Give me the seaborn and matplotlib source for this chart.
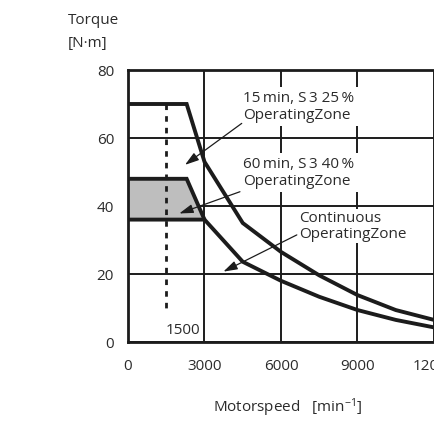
import matplotlib
matplotlib.use("Agg")
import numpy as np
import pandas as pd
import matplotlib.pyplot as plt
import seaborn as sns

# Axis ticks
speed_ticks = [0, 3000, 6000, 9000, 12000]
torque_ticks = [0, 20, 40, 60, 80]

# 15 min, S3 25 % operating limit
speed_s3_25 = [0, 2300, 3000, 4500, 6000, 7500, 9000, 10500, 12000]
torque_s3_25 = [70, 70, 53, 35, 26.5, 19.6, 13.8, 9.4, 6.5]

# 60 min, S3 40 % operating limit
speed_s3_40 = [0, 2300, 3000]
torque_s3_40 = [48, 48, 36]

# Continuous operating limit
speed_cont = [0, 3000, 4500, 6000, 7500, 9000, 10500, 12000]
torque_cont = [36, 36, 23.6, 18, 13.3, 9.4, 6.5, 4.3]

# Base speed marker
base_speed = 1500
base_marker_torque = [70, 9]

sns.set_theme(style="white")
plt.rcParams["font.family"] = ["Open Sans", "DejaVu Sans"]
plt.rcParams["mathtext.fontset"] = "custom"
plt.rcParams["mathtext.rm"] = "Open Sans"
plt.rcParams["mathtext.default"] = "regular"

INK = "#1c1c1c"
TXT = "#2b2b2b"
FS = 11

fig = plt.figure(figsize=(4.35, 4.21), dpi=100)
ax = fig.add_axes([128 / 435, 79 / 421, 306 / 435, 272 / 421])

df = pd.concat([
    pd.DataFrame({"speed": speed_s3_25, "torque": torque_s3_25, "zone": "S3 25%"}),
    pd.DataFrame({"speed": speed_s3_40, "torque": torque_s3_40, "zone": "S3 40%"}),
    pd.DataFrame({"speed": speed_cont, "torque": torque_cont, "zone": "S1"}),
], ignore_index=True)

# Shaded band between the 60 min curve and the continuous curve
band_x = np.array(speed_s3_40, dtype=float)
band_low = np.interp(band_x, speed_cont, torque_cont)
ax.fill_between(band_x, band_low, torque_s3_40, color="#bebebe", lw=0, zorder=1.5)

sns.lineplot(data=df, x="speed", y="torque", units="zone", estimator=None,
             sort=False, color=INK, lw=2.8, ax=ax, zorder=3,
             solid_joinstyle="miter", solid_capstyle="butt")

# Dashed base-speed marker
ax.plot([base_speed, base_speed], base_marker_torque, color=INK, lw=2,
        linestyle=(0, (2, 2.2)), zorder=2.5)
ax.text(base_speed - 30, 3.5, f"{base_speed}", ha="left", va="center",
        fontsize=FS, color=TXT, zorder=4)

ax.set_xlim(speed_ticks[0], speed_ticks[-1])
ax.set_ylim(torque_ticks[0], torque_ticks[-1])
ax.set_xticks(speed_ticks)
ax.set_yticks(torque_ticks)
ax.set_xticklabels([str(t) for t in speed_ticks])
ax.set_yticklabels([str(t) for t in torque_ticks])
ax.tick_params(axis="x", length=0, pad=12, labelsize=FS, labelcolor=TXT)
ax.tick_params(axis="y", length=0, pad=10, labelsize=FS, labelcolor=TXT)
ax.set_xlabel("")
ax.set_ylabel("")

ax.grid(True, color=INK, lw=1.4)
ax.set_axisbelow(True)
for side in ["left", "bottom", "top"]:
    ax.spines[side].set_color(INK)
    ax.spines[side].set_linewidth(2)
ax.spines["right"].set_visible(False)

box = dict(boxstyle="square,pad=0.25", fc="white", ec="none")
box_tight = dict(boxstyle="square,pad=0.08", fc="white", ec="none")
arrow = dict(arrowstyle="-|>,head_length=0.7,head_width=0.22", color=INK,
             lw=0.9, shrinkA=0, shrinkB=0)

ax.text(4520, 69.2, "15\u2009min, S\u20093 25\u2009%\nOperatingZone", ha="left",
        va="center", fontsize=FS, color=TXT, bbox=box, zorder=4, linespacing=1.15)
ax.annotate("", xy=(2235, 52.1), xytext=(4460, 64.3), arrowprops=arrow, zorder=5)

ax.text(4520, 49.8, "60\u2009min, S\u20093 40\u2009%\nOperatingZone", ha="left",
        va="center", fontsize=FS, color=TXT, bbox=box, zorder=4, linespacing=1.15)
ax.annotate("", xy=(2010, 37.8), xytext=(4390, 44.2), arrowprops=arrow, zorder=5)

ax.text(6700, 34.0, "Continuous\nOperatingZone", ha="left",
        va="center", fontsize=FS, color=TXT, bbox=box_tight, zorder=4,
        linespacing=1.15)
ax.annotate("", xy=(3740, 20.7), xytext=(6620, 31.5), arrowprops=arrow, zorder=5)

fig.text(68 / 435, 1 - 20 / 421, "Torque", ha="left", va="center",
         fontsize=FS, color=TXT)
fig.text(68 / 435, 1 - 43 / 421, "[N\u00b7m]", ha="left", va="center",
         fontsize=FS, color=TXT)
fig.text(288 / 435, 1 - 408 / 421, "Motorspeed   [min$^{-1}$]", ha="center",
         va="center", fontsize=FS, color=TXT)

fig.savefig("out.png", dpi=100)
